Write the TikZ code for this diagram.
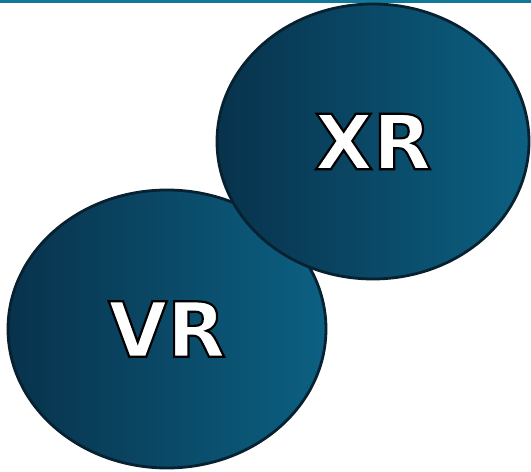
\documentclass[tikz,border=0pt]{standalone}
\usepackage{fontspec}
\setsansfont{DejaVu Sans}
\usetikzlibrary{positioning,shapes.geometric}
\definecolor{bubbledark}{RGB}{8,50,76}
\definecolor{bubblelight}{RGB}{12,96,130}
\definecolor{bubbleedge}{RGB}{7,33,48}
\definecolor{topline}{RGB}{18,120,154}
\tikzset{bubble/.style={ellipse,draw=bubbleedge,line width=2.8pt,left color=bubbledark,right color=bubblelight,inner sep=0pt,text=white,font=\sffamily\bfseries\fontsize{76}{80}\selectfont}}
\tikzset{rule/.style={topline,line width=3pt}}
% white letters with a black rim (fill, then stroke)
\newcommand{\rimtext}[1]{\special{pdf:literal direct 2 Tr 2.2 w 0 G}#1\special{pdf:literal direct 0 Tr}}

\begin{document}
\begin{tikzpicture}[x=1pt,y=1pt]
	\useasboundingbox (0,0) rectangle (531,472);
	% line along the top
	\coordinate (ruleleft) at (0,470.5);
	\coordinate (ruleright) at (531,470.5);
	\draw[rule] (ruleleft) -- (ruleright);

	%% the two bubbles, XR drawn last so it lies on top
	\node[bubble,minimum width=318pt,minimum height=278pt] (vr) at (167,143) {\rimtext{VR}};
	\node[bubble,minimum width=312pt,minimum height=275pt] (xr) at (373,330.5) {\rimtext{XR}};
\end{tikzpicture}
\end{document}
